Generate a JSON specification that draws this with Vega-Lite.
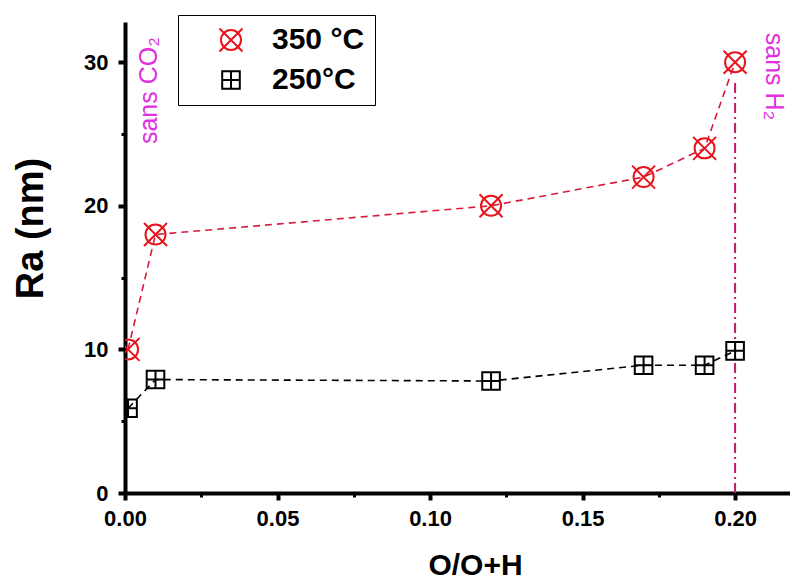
{
  "$schema": "https://vega.github.io/schema/vega-lite/v6.json",
  "width": 665,
  "height": 471,
  "autosize": {"type": "none"},
  "padding": {"left": 125, "top": 22, "right": 0, "bottom": 86},
  "background": "white",
  "config": {
    "view": {"stroke": null},
    "font": "Liberation Sans",
    "axis": {"grid": false, "labelColor": "black", "tickColor": "black", "domainColor": "black", "titleColor": "black"}
  },
  "datasets": {
    "ra": [
      {"x": 0.001, "y": 10, "series": "350 °C"},
      {"x": 0.01, "y": 18, "series": "350 °C"},
      {"x": 0.12, "y": 20, "series": "350 °C"},
      {"x": 0.17, "y": 22, "series": "350 °C"},
      {"x": 0.19, "y": 24, "series": "350 °C"},
      {"x": 0.2, "y": 30, "series": "350 °C"},
      {"x": 0.001, "y": 5.9, "series": "250°C"},
      {"x": 0.01, "y": 7.9, "series": "250°C"},
      {"x": 0.12, "y": 7.8, "series": "250°C"},
      {"x": 0.17, "y": 8.9, "series": "250°C"},
      {"x": 0.19, "y": 8.9, "series": "250°C"},
      {"x": 0.2, "y": 9.9, "series": "250°C"}
    ],
    "cut": [{"x": 0.2, "y": 0, "y2": 28.8}],
    "co2": [{"x": 0.008, "y": 24.3, "label": "sans CO₂"}],
    "h2": [{"x": 0.2127, "y": 32.05, "label": "sans H₂"}]
  },
  "layer": [
    {
      "data": {"name": "cut"},
      "mark": {"type": "rule", "color": "#c4186a", "strokeWidth": 2, "strokeDash": [10, 4, 2, 4]},
      "encoding": {
        "x": {"field": "x", "type": "quantitative", "scale": {"domain": [0, 0.218], "nice": false, "zero": false},
          "axis": {"orient": "bottom", "values": [0.025, 0.075, 0.125, 0.175], "labels": false, "domain": false, "title": null, "tickSize": 4, "tickWidth": 3}},
        "y": {"field": "y", "type": "quantitative", "scale": {"domain": [0, 32.8], "nice": false},
          "axis": {"orient": "left", "values": [5, 15, 25], "labels": false, "domain": false, "title": null, "tickSize": 4, "tickWidth": 3}},
        "y2": {"field": "y2"}
      }
    },
    {
      "data": {"name": "ra"},
      "mark": {"type": "line", "strokeDash": [7, 5], "strokeWidth": 1.6, "clip": true},
      "encoding": {
        "x": {"field": "x", "type": "quantitative", "scale": {"domain": [0, 0.218], "nice": false, "zero": false},
          "axis": {"orient": "bottom", "values": [0, 0.05, 0.1, 0.15, 0.2], "format": ".2f", "title": "O/O+H",
            "titleFontSize": 30, "titleFontWeight": "bold", "titleX": 350, "titleY": 81, "titleBaseline": "alphabetic",
            "labelFontSize": 22, "labelFontWeight": "bold", "labelPadding": 8, "labelFlush": false, "labelOverlap": false,
            "tickSize": 7, "tickWidth": 4, "domainWidth": 4}},
        "y": {"field": "y", "type": "quantitative", "scale": {"domain": [0, 32.8], "nice": false},
          "axis": {"orient": "left", "values": [0, 10, 20, 30], "title": "Ra (nm)",
            "titleFontSize": 38, "titleFontWeight": "bold", "titleX": -83, "titleY": 206, "titleBaseline": "alphabetic", "titleAngle": -90, "titleAlign": "center",
            "labelFontSize": 22, "labelFontWeight": "bold", "labelPadding": 10, "labelFlush": false, "labelOverlap": false,
            "tickSize": 7, "tickWidth": 4, "domainWidth": 4}},
        "stroke": {"field": "series", "type": "nominal", "scale": {"domain": ["250°C", "350 °C"], "range": ["#000000", "#d81b3c"]}, "legend": null}
      }
    },
    {
      "data": {"name": "ra"},
      "mark": {"type": "point", "filled": false, "size": 400, "strokeWidth": 2, "opacity": 1, "clip": true},
      "encoding": {
        "x": {"field": "x", "type": "quantitative", "scale": {"domain": [0, 0.218], "nice": false, "zero": false}, "axis": null},
        "y": {"field": "y", "type": "quantitative", "scale": {"domain": [0, 32.8], "nice": false}, "axis": null},
        "shape": {"field": "series", "type": "nominal",
          "scale": {"domain": ["350 °C", "250°C"], "range": ["M1,0A1,1,0,1,1,-1,0A1,1,0,1,1,1,0ZM-1.15,-1.15L1.15,1.15M-1.15,1.15L1.15,-1.15", "M-0.88,-0.88H0.88V0.88H-0.88ZM0,-0.88V0.88M-0.88,0H0.88"]}},
        "color": {"field": "series", "type": "nominal",
          "scale": {"domain": ["350 °C", "250°C"], "range": ["#e8141c", "#000000"]},
          "legend": {
            "orient": "none", "legendX": 53, "legendY": -7, "title": null,
            "strokeColor": "black", "fillColor": "white", "padding": 10, "rowPadding": 9,
            "labelFont": "Liberation Sans", "labelFontSize": 30, "labelFontWeight": "bold", "labelLimit": 300,
            "symbolSize": 400, "symbolStrokeWidth": 2, "symbolOffset": 28, "labelOffset": 26
          }}
      }
    },
    {
      "data": {"name": "co2"},
      "mark": {"type": "text", "angle": 270, "align": "left", "baseline": "middle", "fontSize": 25, "color": "#e030e0", "font": "Liberation Sans"},
      "encoding": {
        "x": {"field": "x", "type": "quantitative", "scale": {"domain": [0, 0.218], "nice": false, "zero": false}, "axis": null},
        "y": {"field": "y", "type": "quantitative", "scale": {"domain": [0, 32.8], "nice": false}, "axis": null},
        "text": {"field": "label"}
      }
    },
    {
      "data": {"name": "h2"},
      "mark": {"type": "text", "angle": 90, "align": "left", "baseline": "middle", "fontSize": 25, "color": "#e030e0", "font": "Liberation Sans"},
      "encoding": {
        "x": {"field": "x", "type": "quantitative", "scale": {"domain": [0, 0.218], "nice": false, "zero": false}, "axis": null},
        "y": {"field": "y", "type": "quantitative", "scale": {"domain": [0, 32.8], "nice": false}, "axis": null},
        "text": {"field": "label"}
      }
    }
  ],
  "resolve": {"axis": {"x": "independent", "y": "independent"}}
}
